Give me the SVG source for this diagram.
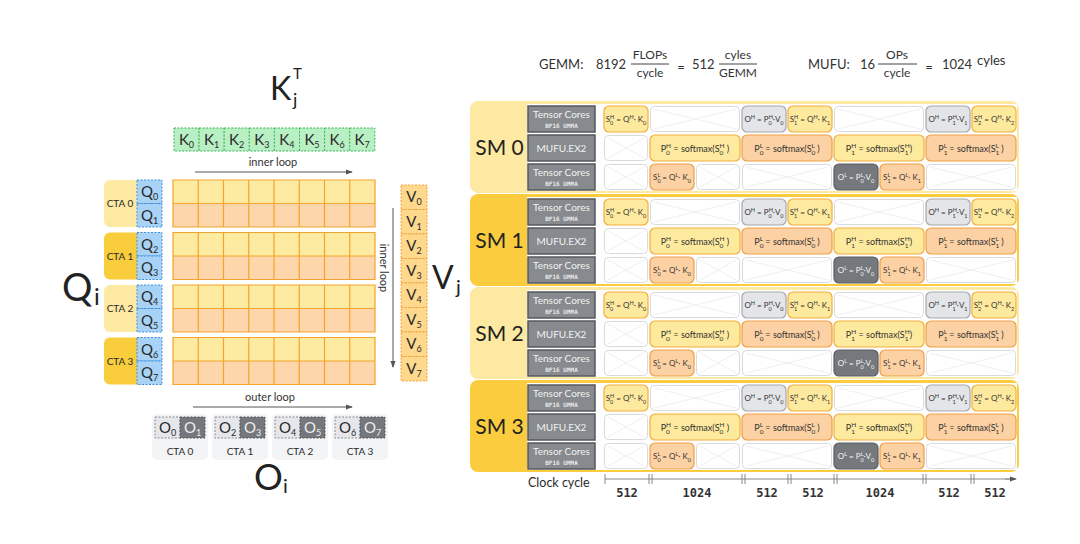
<svg xmlns="http://www.w3.org/2000/svg" xmlns:xlink="http://www.w3.org/1999/xlink" width="1080" height="544" viewBox="0 0 1080 544">
<style>
text{font-family:Lato,"Noto Sans","DejaVu Sans",sans-serif;fill:#2a2a2a}
.big{fill:#222}
.kb{fill:#b8efc3;stroke:#3cb45c;stroke-dasharray:2 1.5;stroke-width:1}
.qb{fill:#a8d3f6;stroke:#3f8fdd;stroke-dasharray:2 1.5;stroke-width:1}
.vb{fill:#fdd88d;stroke:#f0a23a;stroke-dasharray:2 1.5;stroke-width:1}
.ctaL{fill:#fde9a2}.ctaD{fill:#f9cd3c}
.g1{fill:#feeba2}.g2{fill:#fdd6ab}
.gl{fill:none;stroke:#f4a42c;stroke-width:1.2}
.ol{fill:#e6e7ea;stroke:#8a8d91;stroke-dasharray:2 1.5;stroke-width:1}
.od{fill:#74777b;stroke:#55585c;stroke-dasharray:2 1.5;stroke-width:1}
.ctab{fill:#f3f4f6}
.l15{font-size:15px;text-anchor:middle}
.sub9{font-size:9px}
.wt{fill:#eeeeee}
.cta{font-size:10px;text-anchor:middle}
.lbl{font-size:11px;text-anchor:middle;fill:#333}
.arr{stroke:#555;stroke-width:1;fill:none;marker-end:url(#ah)}
.smL{fill:#fde9a2}.smD{fill:#fbcd3e}
.lab{fill:#878a8e;stroke:#55585c;stroke-width:1.5}
.lt{font-size:10px;fill:#f2f2f2;text-anchor:middle}
.lm{font-family:"DejaVu Sans Mono",monospace;font-size:6px;font-weight:bold;fill:#e8e8e8;text-anchor:middle}
.cy{fill:#feea9e;stroke:#f2ae3a;stroke-width:1.2}
.co{fill:#fcd1a3;stroke:#ef9f45;stroke-width:1.2}
.cg{fill:#e3e5e8;stroke:#a5a8ac;stroke-width:1.2}
.cd{fill:#75787c;stroke:#5b5e62;stroke-width:1.2}
.smt{font-size:21px;text-anchor:middle;fill:#222}
.f{font-size:8px;fill:#333;text-anchor:middle}
.fw{font-size:9px}
.s{font-size:5.5px}
.sw{font-size:6.5px}
.fd{fill:#f4f4f4}
.tl{stroke:#888;stroke-width:1;fill:none}
.ck{font-family:"DejaVu Sans Mono",monospace;font-weight:bold;font-size:12px;fill:#333;text-anchor:middle}
.fm{font-size:13px;fill:#333}
.fr{font-size:12px;fill:#333;text-anchor:middle}
</style>
<defs>
<marker id="ah" viewBox="0 0 8 8" refX="7" refY="4" markerWidth="7" markerHeight="7" orient="auto"><path d="M0,1 L8,4 L0,7 z" fill="#555"/></marker>
<g id="e1"><rect x="0.5" y="0.5" width="43" height="25" rx="4" fill="#fff" stroke="#d8dadd"/><path d="M4,3 L40,23 M40,3 L4,23" stroke="#ebebeb" stroke-width="0.8"/></g>
<g id="e2"><rect x="0.5" y="0.5" width="89" height="25" rx="4" fill="#fff" stroke="#d8dadd"/><path d="M4,3 L86,23 M86,3 L4,23" stroke="#ebebeb" stroke-width="0.8"/></g>
</defs>
<rect width="1080" height="544" fill="#ffffff"/>

<!-- Left panel -->
<g id="kT-label">
<text class="big" x="270" y="100" font-size="32">K</text>
<text class="big" x="293" y="79" font-size="15">T</text>
<text class="big" x="293" y="106" font-size="18">j</text>
</g>
<g id="k-row">
<rect class="kb" x="174" y="128" width="25.1" height="23"/>
<rect class="kb" x="199.1" y="128" width="25.1" height="23"/>
<rect class="kb" x="224.2" y="128" width="25.1" height="23"/>
<rect class="kb" x="249.3" y="128" width="25.1" height="23"/>
<rect class="kb" x="274.4" y="128" width="25.1" height="23"/>
<rect class="kb" x="299.5" y="128" width="25.1" height="23"/>
<rect class="kb" x="324.6" y="128" width="25.1" height="23"/>
<rect class="kb" x="349.7" y="128" width="25.1" height="23"/>
<text class="l15" x="186.5" y="145">K<tspan class="sub9" dy="3">0</tspan></text>
<text class="l15" x="211.6" y="145">K<tspan class="sub9" dy="3">1</tspan></text>
<text class="l15" x="236.7" y="145">K<tspan class="sub9" dy="3">2</tspan></text>
<text class="l15" x="261.8" y="145">K<tspan class="sub9" dy="3">3</tspan></text>
<text class="l15" x="286.9" y="145">K<tspan class="sub9" dy="3">4</tspan></text>
<text class="l15" x="312" y="145">K<tspan class="sub9" dy="3">5</tspan></text>
<text class="l15" x="337.1" y="145">K<tspan class="sub9" dy="3">6</tspan></text>
<text class="l15" x="362.2" y="145">K<tspan class="sub9" dy="3">7</tspan></text>
</g>

<g id="connectors">
<text class="lbl" x="273" y="166">inner loop</text>
<line class="arr" x1="195" y1="172" x2="352" y2="172"/>
<text class="lbl" transform="translate(380,268) rotate(90)">inner loop</text>
<line class="arr" x1="393" y1="208" x2="393" y2="367"/>
<text class="lbl" x="270" y="401">outer loop</text>
<line class="arr" x1="193" y1="407" x2="352" y2="407"/>
</g>

<g id="qi-label">
<text class="big" x="62" y="301" font-size="38">Q</text>
<text class="big" x="94" y="305" font-size="24">i</text>
</g>

<g id="cta0">
<rect class="ctaL" x="104" y="180" width="45" height="47" rx="6"/>
<text class="cta" x="120" y="207">CTA 0</text>
<rect class="qb" x="137" y="180" width="25" height="23.5"/>
<rect class="qb" x="137" y="203.5" width="25" height="23.5"/>
<text class="l15" x="149.5" y="197">Q<tspan class="sub9" dy="3">0</tspan></text>
<text class="l15" x="149.5" y="220.5">Q<tspan class="sub9" dy="3">1</tspan></text>
<rect class="g1" x="173" y="180" width="202" height="23.5"/>
<rect class="g2" x="173" y="203.5" width="202" height="23.5"/>
<path class="gl" d="M173,180h202v47h-202z M173,203.5h202 M198.25,180v47 M223.5,180v47 M248.75,180v47 M274,180v47 M299.25,180v47 M324.5,180v47 M349.75,180v47"/>
</g>
<g id="cta1">
<rect class="ctaD" x="104" y="232.5" width="45" height="47" rx="6"/>
<text class="cta" x="120" y="259.5">CTA 1</text>
<rect class="qb" x="137" y="232.5" width="25" height="23.5"/>
<rect class="qb" x="137" y="256" width="25" height="23.5"/>
<text class="l15" x="149.5" y="249.5">Q<tspan class="sub9" dy="3">2</tspan></text>
<text class="l15" x="149.5" y="273">Q<tspan class="sub9" dy="3">3</tspan></text>
<rect class="g1" x="173" y="232.5" width="202" height="23.5"/>
<rect class="g2" x="173" y="256" width="202" height="23.5"/>
<path class="gl" d="M173,232.5h202v47h-202z M173,256h202 M198.25,232.5v47 M223.5,232.5v47 M248.75,232.5v47 M274,232.5v47 M299.25,232.5v47 M324.5,232.5v47 M349.75,232.5v47"/>
</g>
<g id="cta2">
<rect class="ctaL" x="104" y="285" width="45" height="47" rx="6"/>
<text class="cta" x="120" y="312">CTA 2</text>
<rect class="qb" x="137" y="285" width="25" height="23.5"/>
<rect class="qb" x="137" y="308.5" width="25" height="23.5"/>
<text class="l15" x="149.5" y="302">Q<tspan class="sub9" dy="3">4</tspan></text>
<text class="l15" x="149.5" y="325.5">Q<tspan class="sub9" dy="3">5</tspan></text>
<rect class="g1" x="173" y="285" width="202" height="23.5"/>
<rect class="g2" x="173" y="308.5" width="202" height="23.5"/>
<path class="gl" d="M173,285h202v47h-202z M173,308.5h202 M198.25,285v47 M223.5,285v47 M248.75,285v47 M274,285v47 M299.25,285v47 M324.5,285v47 M349.75,285v47"/>
</g>
<g id="cta3">
<rect class="ctaD" x="104" y="337.5" width="45" height="47" rx="6"/>
<text class="cta" x="120" y="364.5">CTA 3</text>
<rect class="qb" x="137" y="337.5" width="25" height="23.5"/>
<rect class="qb" x="137" y="361" width="25" height="23.5"/>
<text class="l15" x="149.5" y="354.5">Q<tspan class="sub9" dy="3">6</tspan></text>
<text class="l15" x="149.5" y="378">Q<tspan class="sub9" dy="3">7</tspan></text>
<rect class="g1" x="173" y="337.5" width="202" height="23.5"/>
<rect class="g2" x="173" y="361" width="202" height="23.5"/>
<path class="gl" d="M173,337.5h202v47h-202z M173,361h202 M198.25,337.5v47 M223.5,337.5v47 M248.75,337.5v47 M274,337.5v47 M299.25,337.5v47 M324.5,337.5v47 M349.75,337.5v47"/>
</g>

<g id="v-col">
<rect class="vb" x="401" y="185" width="26" height="24.5"/>
<rect class="vb" x="401" y="209.5" width="26" height="24.5"/>
<rect class="vb" x="401" y="234" width="26" height="24.5"/>
<rect class="vb" x="401" y="258.5" width="26" height="24.5"/>
<rect class="vb" x="401" y="283" width="26" height="24.5"/>
<rect class="vb" x="401" y="307.5" width="26" height="24.5"/>
<rect class="vb" x="401" y="332" width="26" height="24.5"/>
<rect class="vb" x="401" y="356.5" width="26" height="24.5"/>
<text class="l15" x="414" y="202">V<tspan class="sub9" dy="3">0</tspan></text>
<text class="l15" x="414" y="226.5">V<tspan class="sub9" dy="3">1</tspan></text>
<text class="l15" x="414" y="251">V<tspan class="sub9" dy="3">2</tspan></text>
<text class="l15" x="414" y="275.5">V<tspan class="sub9" dy="3">3</tspan></text>
<text class="l15" x="414" y="300">V<tspan class="sub9" dy="3">4</tspan></text>
<text class="l15" x="414" y="324.5">V<tspan class="sub9" dy="3">5</tspan></text>
<text class="l15" x="414" y="349">V<tspan class="sub9" dy="3">6</tspan></text>
<text class="l15" x="414" y="373.5">V<tspan class="sub9" dy="3">7</tspan></text>
</g>
<g id="vj-label">
<text class="big" x="432" y="289" font-size="32">V</text>
<text class="big" x="456" y="294" font-size="20">j</text>
</g>

<g id="o-cta0">
<rect class="ctab" x="152" y="414" width="56" height="46" rx="5"/>
<rect class="ol" x="155" y="417" width="25" height="21"/>
<rect class="od" x="180" y="417" width="25" height="21"/>
<text class="l15" x="167.5" y="433">O<tspan class="sub9" dy="3">0</tspan></text>
<text class="l15 wt" x="192.5" y="433">O<tspan class="sub9" dy="3">1</tspan></text>
<text class="cta" x="180" y="455">CTA 0</text>
</g>
<g id="o-cta1">
<rect class="ctab" x="212" y="414" width="56" height="46" rx="5"/>
<rect class="ol" x="215" y="417" width="25" height="21"/>
<rect class="od" x="240" y="417" width="25" height="21"/>
<text class="l15" x="227.5" y="433">O<tspan class="sub9" dy="3">2</tspan></text>
<text class="l15 wt" x="252.5" y="433">O<tspan class="sub9" dy="3">3</tspan></text>
<text class="cta" x="240" y="455">CTA 1</text>
</g>
<g id="o-cta2">
<rect class="ctab" x="272" y="414" width="56" height="46" rx="5"/>
<rect class="ol" x="275" y="417" width="25" height="21"/>
<rect class="od" x="300" y="417" width="25" height="21"/>
<text class="l15" x="287.5" y="433">O<tspan class="sub9" dy="3">4</tspan></text>
<text class="l15 wt" x="312.5" y="433">O<tspan class="sub9" dy="3">5</tspan></text>
<text class="cta" x="300" y="455">CTA 2</text>
</g>
<g id="o-cta3">
<rect class="ctab" x="332" y="414" width="56" height="46" rx="5"/>
<rect class="ol" x="335" y="417" width="25" height="21"/>
<rect class="od" x="360" y="417" width="25" height="21"/>
<text class="l15" x="347.5" y="433">O<tspan class="sub9" dy="3">6</tspan></text>
<text class="l15 wt" x="372.5" y="433">O<tspan class="sub9" dy="3">7</tspan></text>
<text class="cta" x="360" y="455">CTA 3</text>
</g>
<g id="oi-label">
<text class="big" x="254" y="490" font-size="36">O</text>
<text class="big" x="283" y="493" font-size="20">i</text>
</g>

<!-- Formula -->
<g id="formula">
<text class="fm" x="539" y="69">GEMM:</text>
<text class="fm" x="596" y="69">8192</text>
<text class="fr" x="650" y="59">FLOPs</text>
<line x1="631" y1="64" x2="669" y2="64" stroke="#444" stroke-width="1"/>
<text class="fr" x="650" y="77">cycle</text>
<text class="fm" x="681" y="72" font-size="19" text-anchor="middle">=</text>
<text class="fm" x="692" y="69">512</text>
<text class="fr" x="738" y="59">cyles</text>
<line x1="719" y1="64" x2="757" y2="64" stroke="#444" stroke-width="1"/>
<text class="fr" x="738" y="77">GEMM</text>
<text class="fm" x="808" y="69">MUFU:</text>
<text class="fm" x="860" y="69">16</text>
<text class="fr" x="897" y="59">OPs</text>
<line x1="878" y1="64" x2="917" y2="64" stroke="#444" stroke-width="1"/>
<text class="fr" x="897" y="77">cycle</text>
<text class="fm" x="929" y="72" font-size="19" text-anchor="middle">=</text>
<text class="fm" x="942" y="69">1024</text>
<text class="fm" x="977" y="65" font-size="12">cyles</text>
</g>

<!-- SM 0 -->
<g id="sm0">
<rect class="smL" x="470" y="101" width="549" height="92" rx="8"/>
<rect x="527" y="104" width="490" height="87" fill="#fefefe"/>
<text class="smt" x="499.5" y="155">SM 0</text>
<rect class="lab" x="528" y="106" width="67" height="26"/>
<text class="lt" x="561.5" y="118">Tensor Cores</text>
<text class="lm" x="561.5" y="127.5">BF16 UMMA</text>
<rect class="lab" x="528" y="135" width="67" height="26"/>
<text class="lt" x="561.5" y="151.5">MUFU.EX2</text>
<rect class="lab" x="528" y="164" width="67" height="26"/>
<text class="lt" x="561.5" y="176">Tensor Cores</text>
<text class="lm" x="561.5" y="185.5">BF16 UMMA</text>
<rect class="cy" x="604" y="106" width="44" height="26" rx="5"/>
<text class="f" x="626" y="122">S<tspan class="s" dy="2.5">0</tspan><tspan class="s" dx="-3.2" dy="-6">H</tspan><tspan dy="3.5"> = Q</tspan><tspan class="s" dy="-3.5">H</tspan><tspan dy="3.5">· K</tspan><tspan class="s" dy="2.5">0</tspan></text>
<use href="#e2" x="650" y="106"/>
<rect class="cg" x="742" y="106" width="44" height="26" rx="5"/>
<text class="f" x="764" y="122">O<tspan class="s" dy="-3.5">H</tspan><tspan dy="3.5"> = P</tspan><tspan class="s" dy="2.5">0</tspan><tspan class="s" dx="-3.2" dy="-6">H</tspan><tspan dy="3.5">·V</tspan><tspan class="s" dy="2.5">0</tspan></text>
<rect class="cy" x="788" y="106" width="44" height="26" rx="5"/>
<text class="f" x="810" y="122">S<tspan class="s" dy="2.5">1</tspan><tspan class="s" dx="-3.2" dy="-6">H</tspan><tspan dy="3.5"> = Q</tspan><tspan class="s" dy="-3.5">H</tspan><tspan dy="3.5">· K</tspan><tspan class="s" dy="2.5">1</tspan></text>
<use href="#e2" x="834" y="106"/>
<rect class="cg" x="926" y="106" width="44" height="26" rx="5"/>
<text class="f" x="948" y="122">O<tspan class="s" dy="-3.5">H</tspan><tspan dy="3.5"> = P</tspan><tspan class="s" dy="2.5">1</tspan><tspan class="s" dx="-3.2" dy="-6">H</tspan><tspan dy="3.5">·V</tspan><tspan class="s" dy="2.5">1</tspan></text>
<rect class="cy" x="972" y="106" width="44" height="26" rx="5"/>
<text class="f" x="994" y="122">S<tspan class="s" dy="2.5">2</tspan><tspan class="s" dx="-3.2" dy="-6">H</tspan><tspan dy="3.5"> = Q</tspan><tspan class="s" dy="-3.5">H</tspan><tspan dy="3.5">· K</tspan><tspan class="s" dy="2.5">2</tspan></text>
<use href="#e1" x="604" y="135"/>
<rect class="cy" x="650" y="135" width="90" height="26" rx="5"/>
<text class="f fw" x="695" y="151.5">P<tspan class="sw" dy="3">0</tspan><tspan class="sw" dx="-3.8" dy="-7">H</tspan><tspan dy="4"> = softmax(S</tspan><tspan class="sw" dy="3">0</tspan><tspan class="sw" dx="-3.8" dy="-7">H</tspan><tspan dy="4"> )</tspan></text>
<rect class="co" x="742" y="135" width="90" height="26" rx="5"/>
<text class="f fw" x="787" y="151.5">P<tspan class="sw" dy="3">0</tspan><tspan class="sw" dx="-3.8" dy="-7">L</tspan><tspan dy="4"> = softmax(S</tspan><tspan class="sw" dy="3">0</tspan><tspan class="sw" dx="-3.8" dy="-7">L</tspan><tspan dy="4"> )</tspan></text>
<rect class="cy" x="834" y="135" width="90" height="26" rx="5"/>
<text class="f fw" x="879" y="151.5">P<tspan class="sw" dy="3">1</tspan><tspan class="sw" dx="-3.8" dy="-7">H</tspan><tspan dy="4"> = softmax(S</tspan><tspan class="sw" dy="3">1</tspan><tspan class="sw" dx="-3.8" dy="-7">H</tspan><tspan dy="4">)</tspan></text>
<rect class="co" x="926" y="135" width="90" height="26" rx="5"/>
<text class="f fw" x="971" y="151.5">P<tspan class="sw" dy="3">1</tspan><tspan class="sw" dx="-3.8" dy="-7">L</tspan><tspan dy="4"> = softmax(S</tspan><tspan class="sw" dy="3">1</tspan><tspan class="sw" dx="-3.8" dy="-7">L</tspan><tspan dy="4"> )</tspan></text>
<use href="#e1" x="604" y="164"/>
<rect class="co" x="650" y="164" width="44" height="26" rx="5"/>
<text class="f" x="672" y="180">S<tspan class="s" dy="2.5">0</tspan><tspan class="s" dx="-3.2" dy="-6">L</tspan><tspan dy="3.5"> = Q</tspan><tspan class="s" dy="-3.5">L</tspan><tspan dy="3.5">· K</tspan><tspan class="s" dy="2.5">0</tspan></text>
<use href="#e1" x="696" y="164"/>
<use href="#e2" x="742" y="164"/>
<rect class="cd" x="834" y="164" width="44" height="26" rx="5"/>
<text class="f fd" x="856" y="180">O<tspan class="s" dy="-3.5">L</tspan><tspan dy="3.5"> = P</tspan><tspan class="s" dy="2.5">0</tspan><tspan class="s" dx="-3.2" dy="-6">L</tspan><tspan dy="3.5">·V</tspan><tspan class="s" dy="2.5">0</tspan></text>
<rect class="co" x="880" y="164" width="44" height="26" rx="5"/>
<text class="f" x="902" y="180">S<tspan class="s" dy="2.5">1</tspan><tspan class="s" dx="-3.2" dy="-6">L</tspan><tspan dy="3.5"> = Q</tspan><tspan class="s" dy="-3.5">L</tspan><tspan dy="3.5">· K</tspan><tspan class="s" dy="2.5">1</tspan></text>
<use href="#e2" x="926" y="164"/>
</g>

<!-- SM 1 -->
<g id="sm1" transform="translate(0,93)">
<rect class="smD" x="470" y="101" width="549" height="92" rx="8"/>
<rect x="527" y="104" width="490" height="87" fill="#fefefe"/>
<text class="smt" x="499.5" y="155">SM 1</text>
<rect class="lab" x="528" y="106" width="67" height="26"/>
<text class="lt" x="561.5" y="118">Tensor Cores</text>
<text class="lm" x="561.5" y="127.5">BF16 UMMA</text>
<rect class="lab" x="528" y="135" width="67" height="26"/>
<text class="lt" x="561.5" y="151.5">MUFU.EX2</text>
<rect class="lab" x="528" y="164" width="67" height="26"/>
<text class="lt" x="561.5" y="176">Tensor Cores</text>
<text class="lm" x="561.5" y="185.5">BF16 UMMA</text>
<rect class="cy" x="604" y="106" width="44" height="26" rx="5"/>
<text class="f" x="626" y="122">S<tspan class="s" dy="2.5">0</tspan><tspan class="s" dx="-3.2" dy="-6">H</tspan><tspan dy="3.5"> = Q</tspan><tspan class="s" dy="-3.5">H</tspan><tspan dy="3.5">· K</tspan><tspan class="s" dy="2.5">0</tspan></text>
<use href="#e2" x="650" y="106"/>
<rect class="cg" x="742" y="106" width="44" height="26" rx="5"/>
<text class="f" x="764" y="122">O<tspan class="s" dy="-3.5">H</tspan><tspan dy="3.5"> = P</tspan><tspan class="s" dy="2.5">0</tspan><tspan class="s" dx="-3.2" dy="-6">H</tspan><tspan dy="3.5">·V</tspan><tspan class="s" dy="2.5">0</tspan></text>
<rect class="cy" x="788" y="106" width="44" height="26" rx="5"/>
<text class="f" x="810" y="122">S<tspan class="s" dy="2.5">1</tspan><tspan class="s" dx="-3.2" dy="-6">H</tspan><tspan dy="3.5"> = Q</tspan><tspan class="s" dy="-3.5">H</tspan><tspan dy="3.5">· K</tspan><tspan class="s" dy="2.5">1</tspan></text>
<use href="#e2" x="834" y="106"/>
<rect class="cg" x="926" y="106" width="44" height="26" rx="5"/>
<text class="f" x="948" y="122">O<tspan class="s" dy="-3.5">H</tspan><tspan dy="3.5"> = P</tspan><tspan class="s" dy="2.5">1</tspan><tspan class="s" dx="-3.2" dy="-6">H</tspan><tspan dy="3.5">·V</tspan><tspan class="s" dy="2.5">1</tspan></text>
<rect class="cy" x="972" y="106" width="44" height="26" rx="5"/>
<text class="f" x="994" y="122">S<tspan class="s" dy="2.5">2</tspan><tspan class="s" dx="-3.2" dy="-6">H</tspan><tspan dy="3.5"> = Q</tspan><tspan class="s" dy="-3.5">H</tspan><tspan dy="3.5">· K</tspan><tspan class="s" dy="2.5">2</tspan></text>
<use href="#e1" x="604" y="135"/>
<rect class="cy" x="650" y="135" width="90" height="26" rx="5"/>
<text class="f fw" x="695" y="151.5">P<tspan class="sw" dy="3">0</tspan><tspan class="sw" dx="-3.8" dy="-7">H</tspan><tspan dy="4"> = softmax(S</tspan><tspan class="sw" dy="3">0</tspan><tspan class="sw" dx="-3.8" dy="-7">H</tspan><tspan dy="4"> )</tspan></text>
<rect class="co" x="742" y="135" width="90" height="26" rx="5"/>
<text class="f fw" x="787" y="151.5">P<tspan class="sw" dy="3">0</tspan><tspan class="sw" dx="-3.8" dy="-7">L</tspan><tspan dy="4"> = softmax(S</tspan><tspan class="sw" dy="3">0</tspan><tspan class="sw" dx="-3.8" dy="-7">L</tspan><tspan dy="4"> )</tspan></text>
<rect class="cy" x="834" y="135" width="90" height="26" rx="5"/>
<text class="f fw" x="879" y="151.5">P<tspan class="sw" dy="3">1</tspan><tspan class="sw" dx="-3.8" dy="-7">H</tspan><tspan dy="4"> = softmax(S</tspan><tspan class="sw" dy="3">1</tspan><tspan class="sw" dx="-3.8" dy="-7">H</tspan><tspan dy="4">)</tspan></text>
<rect class="co" x="926" y="135" width="90" height="26" rx="5"/>
<text class="f fw" x="971" y="151.5">P<tspan class="sw" dy="3">1</tspan><tspan class="sw" dx="-3.8" dy="-7">L</tspan><tspan dy="4"> = softmax(S</tspan><tspan class="sw" dy="3">1</tspan><tspan class="sw" dx="-3.8" dy="-7">L</tspan><tspan dy="4"> )</tspan></text>
<use href="#e1" x="604" y="164"/>
<rect class="co" x="650" y="164" width="44" height="26" rx="5"/>
<text class="f" x="672" y="180">S<tspan class="s" dy="2.5">0</tspan><tspan class="s" dx="-3.2" dy="-6">L</tspan><tspan dy="3.5"> = Q</tspan><tspan class="s" dy="-3.5">L</tspan><tspan dy="3.5">· K</tspan><tspan class="s" dy="2.5">0</tspan></text>
<use href="#e1" x="696" y="164"/>
<use href="#e2" x="742" y="164"/>
<rect class="cd" x="834" y="164" width="44" height="26" rx="5"/>
<text class="f fd" x="856" y="180">O<tspan class="s" dy="-3.5">L</tspan><tspan dy="3.5"> = P</tspan><tspan class="s" dy="2.5">0</tspan><tspan class="s" dx="-3.2" dy="-6">L</tspan><tspan dy="3.5">·V</tspan><tspan class="s" dy="2.5">0</tspan></text>
<rect class="co" x="880" y="164" width="44" height="26" rx="5"/>
<text class="f" x="902" y="180">S<tspan class="s" dy="2.5">1</tspan><tspan class="s" dx="-3.2" dy="-6">L</tspan><tspan dy="3.5"> = Q</tspan><tspan class="s" dy="-3.5">L</tspan><tspan dy="3.5">· K</tspan><tspan class="s" dy="2.5">1</tspan></text>
<use href="#e2" x="926" y="164"/>
</g>

<!-- SM 2 -->
<g id="sm2" transform="translate(0,186)">
<rect class="smL" x="470" y="101" width="549" height="92" rx="8"/>
<rect x="527" y="104" width="490" height="87" fill="#fefefe"/>
<text class="smt" x="499.5" y="155">SM 2</text>
<rect class="lab" x="528" y="106" width="67" height="26"/>
<text class="lt" x="561.5" y="118">Tensor Cores</text>
<text class="lm" x="561.5" y="127.5">BF16 UMMA</text>
<rect class="lab" x="528" y="135" width="67" height="26"/>
<text class="lt" x="561.5" y="151.5">MUFU.EX2</text>
<rect class="lab" x="528" y="164" width="67" height="26"/>
<text class="lt" x="561.5" y="176">Tensor Cores</text>
<text class="lm" x="561.5" y="185.5">BF16 UMMA</text>
<rect class="cy" x="604" y="106" width="44" height="26" rx="5"/>
<text class="f" x="626" y="122">S<tspan class="s" dy="2.5">0</tspan><tspan class="s" dx="-3.2" dy="-6">H</tspan><tspan dy="3.5"> = Q</tspan><tspan class="s" dy="-3.5">H</tspan><tspan dy="3.5">· K</tspan><tspan class="s" dy="2.5">0</tspan></text>
<use href="#e2" x="650" y="106"/>
<rect class="cg" x="742" y="106" width="44" height="26" rx="5"/>
<text class="f" x="764" y="122">O<tspan class="s" dy="-3.5">H</tspan><tspan dy="3.5"> = P</tspan><tspan class="s" dy="2.5">0</tspan><tspan class="s" dx="-3.2" dy="-6">H</tspan><tspan dy="3.5">·V</tspan><tspan class="s" dy="2.5">0</tspan></text>
<rect class="cy" x="788" y="106" width="44" height="26" rx="5"/>
<text class="f" x="810" y="122">S<tspan class="s" dy="2.5">1</tspan><tspan class="s" dx="-3.2" dy="-6">H</tspan><tspan dy="3.5"> = Q</tspan><tspan class="s" dy="-3.5">H</tspan><tspan dy="3.5">· K</tspan><tspan class="s" dy="2.5">1</tspan></text>
<use href="#e2" x="834" y="106"/>
<rect class="cg" x="926" y="106" width="44" height="26" rx="5"/>
<text class="f" x="948" y="122">O<tspan class="s" dy="-3.5">H</tspan><tspan dy="3.5"> = P</tspan><tspan class="s" dy="2.5">1</tspan><tspan class="s" dx="-3.2" dy="-6">H</tspan><tspan dy="3.5">·V</tspan><tspan class="s" dy="2.5">1</tspan></text>
<rect class="cy" x="972" y="106" width="44" height="26" rx="5"/>
<text class="f" x="994" y="122">S<tspan class="s" dy="2.5">2</tspan><tspan class="s" dx="-3.2" dy="-6">H</tspan><tspan dy="3.5"> = Q</tspan><tspan class="s" dy="-3.5">H</tspan><tspan dy="3.5">· K</tspan><tspan class="s" dy="2.5">2</tspan></text>
<use href="#e1" x="604" y="135"/>
<rect class="cy" x="650" y="135" width="90" height="26" rx="5"/>
<text class="f fw" x="695" y="151.5">P<tspan class="sw" dy="3">0</tspan><tspan class="sw" dx="-3.8" dy="-7">H</tspan><tspan dy="4"> = softmax(S</tspan><tspan class="sw" dy="3">0</tspan><tspan class="sw" dx="-3.8" dy="-7">H</tspan><tspan dy="4"> )</tspan></text>
<rect class="co" x="742" y="135" width="90" height="26" rx="5"/>
<text class="f fw" x="787" y="151.5">P<tspan class="sw" dy="3">0</tspan><tspan class="sw" dx="-3.8" dy="-7">L</tspan><tspan dy="4"> = softmax(S</tspan><tspan class="sw" dy="3">0</tspan><tspan class="sw" dx="-3.8" dy="-7">L</tspan><tspan dy="4"> )</tspan></text>
<rect class="cy" x="834" y="135" width="90" height="26" rx="5"/>
<text class="f fw" x="879" y="151.5">P<tspan class="sw" dy="3">1</tspan><tspan class="sw" dx="-3.8" dy="-7">H</tspan><tspan dy="4"> = softmax(S</tspan><tspan class="sw" dy="3">1</tspan><tspan class="sw" dx="-3.8" dy="-7">H</tspan><tspan dy="4">)</tspan></text>
<rect class="co" x="926" y="135" width="90" height="26" rx="5"/>
<text class="f fw" x="971" y="151.5">P<tspan class="sw" dy="3">1</tspan><tspan class="sw" dx="-3.8" dy="-7">L</tspan><tspan dy="4"> = softmax(S</tspan><tspan class="sw" dy="3">1</tspan><tspan class="sw" dx="-3.8" dy="-7">L</tspan><tspan dy="4"> )</tspan></text>
<use href="#e1" x="604" y="164"/>
<rect class="co" x="650" y="164" width="44" height="26" rx="5"/>
<text class="f" x="672" y="180">S<tspan class="s" dy="2.5">0</tspan><tspan class="s" dx="-3.2" dy="-6">L</tspan><tspan dy="3.5"> = Q</tspan><tspan class="s" dy="-3.5">L</tspan><tspan dy="3.5">· K</tspan><tspan class="s" dy="2.5">0</tspan></text>
<use href="#e1" x="696" y="164"/>
<use href="#e2" x="742" y="164"/>
<rect class="cd" x="834" y="164" width="44" height="26" rx="5"/>
<text class="f fd" x="856" y="180">O<tspan class="s" dy="-3.5">L</tspan><tspan dy="3.5"> = P</tspan><tspan class="s" dy="2.5">0</tspan><tspan class="s" dx="-3.2" dy="-6">L</tspan><tspan dy="3.5">·V</tspan><tspan class="s" dy="2.5">0</tspan></text>
<rect class="co" x="880" y="164" width="44" height="26" rx="5"/>
<text class="f" x="902" y="180">S<tspan class="s" dy="2.5">1</tspan><tspan class="s" dx="-3.2" dy="-6">L</tspan><tspan dy="3.5"> = Q</tspan><tspan class="s" dy="-3.5">L</tspan><tspan dy="3.5">· K</tspan><tspan class="s" dy="2.5">1</tspan></text>
<use href="#e2" x="926" y="164"/>
</g>

<!-- SM 3 -->
<g id="sm3" transform="translate(0,279)">
<rect class="smD" x="470" y="101" width="549" height="92" rx="8"/>
<rect x="527" y="104" width="490" height="87" fill="#fefefe"/>
<text class="smt" x="499.5" y="155">SM 3</text>
<rect class="lab" x="528" y="106" width="67" height="26"/>
<text class="lt" x="561.5" y="118">Tensor Cores</text>
<text class="lm" x="561.5" y="127.5">BF16 UMMA</text>
<rect class="lab" x="528" y="135" width="67" height="26"/>
<text class="lt" x="561.5" y="151.5">MUFU.EX2</text>
<rect class="lab" x="528" y="164" width="67" height="26"/>
<text class="lt" x="561.5" y="176">Tensor Cores</text>
<text class="lm" x="561.5" y="185.5">BF16 UMMA</text>
<rect class="cy" x="604" y="106" width="44" height="26" rx="5"/>
<text class="f" x="626" y="122">S<tspan class="s" dy="2.5">0</tspan><tspan class="s" dx="-3.2" dy="-6">H</tspan><tspan dy="3.5"> = Q</tspan><tspan class="s" dy="-3.5">H</tspan><tspan dy="3.5">· K</tspan><tspan class="s" dy="2.5">0</tspan></text>
<use href="#e2" x="650" y="106"/>
<rect class="cg" x="742" y="106" width="44" height="26" rx="5"/>
<text class="f" x="764" y="122">O<tspan class="s" dy="-3.5">H</tspan><tspan dy="3.5"> = P</tspan><tspan class="s" dy="2.5">0</tspan><tspan class="s" dx="-3.2" dy="-6">H</tspan><tspan dy="3.5">·V</tspan><tspan class="s" dy="2.5">0</tspan></text>
<rect class="cy" x="788" y="106" width="44" height="26" rx="5"/>
<text class="f" x="810" y="122">S<tspan class="s" dy="2.5">1</tspan><tspan class="s" dx="-3.2" dy="-6">H</tspan><tspan dy="3.5"> = Q</tspan><tspan class="s" dy="-3.5">H</tspan><tspan dy="3.5">· K</tspan><tspan class="s" dy="2.5">1</tspan></text>
<use href="#e2" x="834" y="106"/>
<rect class="cg" x="926" y="106" width="44" height="26" rx="5"/>
<text class="f" x="948" y="122">O<tspan class="s" dy="-3.5">H</tspan><tspan dy="3.5"> = P</tspan><tspan class="s" dy="2.5">1</tspan><tspan class="s" dx="-3.2" dy="-6">H</tspan><tspan dy="3.5">·V</tspan><tspan class="s" dy="2.5">1</tspan></text>
<rect class="cy" x="972" y="106" width="44" height="26" rx="5"/>
<text class="f" x="994" y="122">S<tspan class="s" dy="2.5">2</tspan><tspan class="s" dx="-3.2" dy="-6">H</tspan><tspan dy="3.5"> = Q</tspan><tspan class="s" dy="-3.5">H</tspan><tspan dy="3.5">· K</tspan><tspan class="s" dy="2.5">2</tspan></text>
<use href="#e1" x="604" y="135"/>
<rect class="cy" x="650" y="135" width="90" height="26" rx="5"/>
<text class="f fw" x="695" y="151.5">P<tspan class="sw" dy="3">0</tspan><tspan class="sw" dx="-3.8" dy="-7">H</tspan><tspan dy="4"> = softmax(S</tspan><tspan class="sw" dy="3">0</tspan><tspan class="sw" dx="-3.8" dy="-7">H</tspan><tspan dy="4"> )</tspan></text>
<rect class="co" x="742" y="135" width="90" height="26" rx="5"/>
<text class="f fw" x="787" y="151.5">P<tspan class="sw" dy="3">0</tspan><tspan class="sw" dx="-3.8" dy="-7">L</tspan><tspan dy="4"> = softmax(S</tspan><tspan class="sw" dy="3">0</tspan><tspan class="sw" dx="-3.8" dy="-7">L</tspan><tspan dy="4"> )</tspan></text>
<rect class="cy" x="834" y="135" width="90" height="26" rx="5"/>
<text class="f fw" x="879" y="151.5">P<tspan class="sw" dy="3">1</tspan><tspan class="sw" dx="-3.8" dy="-7">H</tspan><tspan dy="4"> = softmax(S</tspan><tspan class="sw" dy="3">1</tspan><tspan class="sw" dx="-3.8" dy="-7">H</tspan><tspan dy="4">)</tspan></text>
<rect class="co" x="926" y="135" width="90" height="26" rx="5"/>
<text class="f fw" x="971" y="151.5">P<tspan class="sw" dy="3">1</tspan><tspan class="sw" dx="-3.8" dy="-7">L</tspan><tspan dy="4"> = softmax(S</tspan><tspan class="sw" dy="3">1</tspan><tspan class="sw" dx="-3.8" dy="-7">L</tspan><tspan dy="4"> )</tspan></text>
<use href="#e1" x="604" y="164"/>
<rect class="co" x="650" y="164" width="44" height="26" rx="5"/>
<text class="f" x="672" y="180">S<tspan class="s" dy="2.5">0</tspan><tspan class="s" dx="-3.2" dy="-6">L</tspan><tspan dy="3.5"> = Q</tspan><tspan class="s" dy="-3.5">L</tspan><tspan dy="3.5">· K</tspan><tspan class="s" dy="2.5">0</tspan></text>
<use href="#e1" x="696" y="164"/>
<use href="#e2" x="742" y="164"/>
<rect class="cd" x="834" y="164" width="44" height="26" rx="5"/>
<text class="f fd" x="856" y="180">O<tspan class="s" dy="-3.5">L</tspan><tspan dy="3.5"> = P</tspan><tspan class="s" dy="2.5">0</tspan><tspan class="s" dx="-3.2" dy="-6">L</tspan><tspan dy="3.5">·V</tspan><tspan class="s" dy="2.5">0</tspan></text>
<rect class="co" x="880" y="164" width="44" height="26" rx="5"/>
<text class="f" x="902" y="180">S<tspan class="s" dy="2.5">1</tspan><tspan class="s" dx="-3.2" dy="-6">L</tspan><tspan dy="3.5"> = Q</tspan><tspan class="s" dy="-3.5">L</tspan><tspan dy="3.5">· K</tspan><tspan class="s" dy="2.5">1</tspan></text>
<use href="#e2" x="926" y="164"/>
</g>

<!-- Clock -->
<g id="clock">
<text x="528" y="487" font-size="12.5" fill="#333">Clock cycle</text>
<path class="tl" d="M605,479 H1010 M605,474v10 M649,474v10 M652,474v10 M742,474v10 M745,474v10 M788,474v10 M791,474v10 M834,474v10 M837,474v10 M923,474v10 M926,474v10 M971,474v10 M974,474v10"/>
<line x1="1005" y1="479" x2="1016" y2="479" stroke="#888" stroke-width="1" marker-end="url(#ah)"/>
<text class="ck" x="627" y="497">512</text>
<text class="ck" x="697" y="497">1024</text>
<text class="ck" x="767" y="497">512</text>
<text class="ck" x="813" y="497">512</text>
<text class="ck" x="880" y="497">1024</text>
<text class="ck" x="949" y="497">512</text>
<text class="ck" x="995" y="497">512</text>
</g>
</svg>
